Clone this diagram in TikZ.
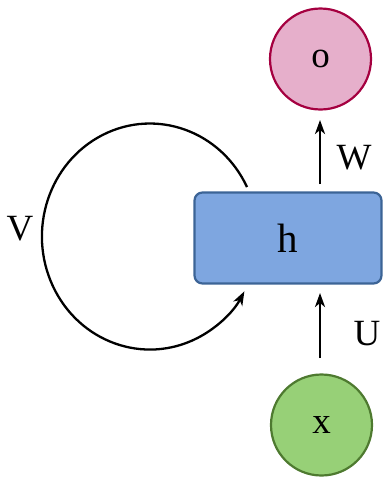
\documentclass[tikz,border=0pt]{standalone}
\usepackage{fontspec}
\setmainfont{Liberation Serif}
\usetikzlibrary{arrows.meta}
\definecolor{hfill}{HTML}{7EA6E0}
\definecolor{hdraw}{HTML}{3C6496}
\definecolor{ofill}{HTML}{E6AFCB}
\definecolor{odraw}{HTML}{A50040}
\definecolor{xfill}{HTML}{97D077}
\definecolor{xdraw}{HTML}{4E7A30}
\begin{document}
\begin{tikzpicture}[x=1pt,y=-1pt,
  lbl/.style={font=\fontsize{37}{40}\selectfont, inner sep=0pt},
  circ/.style={circle, line width=2.2pt, minimum size=101pt, inner sep=0pt, font=\fontsize{37}{40}\selectfont},
  arr/.style={line width=2.3pt, -{Stealth[length=14pt,width=10pt,inset=4pt]}}
]
\useasboundingbox (0,0) rectangle (386,477);
\node[circ, fill=ofill, draw=odraw] (o) at (320.5,59) {o};
\node[circ, fill=xfill, draw=xdraw] (x) at (321.5,425) {x};
\node[draw=hdraw, fill=hfill, line width=2.2pt, rounded corners=8pt, minimum width=187pt, minimum height=91pt, inner sep=0pt, font=\fontsize{41}{44}\selectfont] (h) at (288,238) {h};
\coordinate (ws) at (320,184);
\coordinate (we) at (320,120);
\coordinate (us) at (320,358);
\coordinate (ue) at (320,293);
\draw[arr] (ws) -- (we);
\draw[arr] (us) -- (ue);
\node[lbl] (W) at (354,158) {W};
\node[lbl] (U) at (367,334) {U};
\node[lbl] (V) at (20,229) {V};
\coordinate (ls) at (247,187);
\draw[arr] (ls) arc[start angle=26, end angle=331, x radius=108, y radius=-113];
\end{tikzpicture}
\end{document}
